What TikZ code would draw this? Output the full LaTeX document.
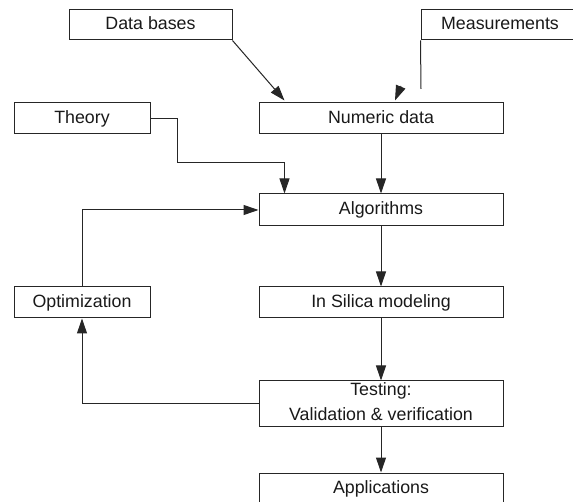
\documentclass[tikz,border=0pt]{standalone}
\usepackage{fontspec}
\setmainfont{Liberation Sans}
\usetikzlibrary{arrows.meta}
\begin{document}
\begin{tikzpicture}[x=1pt,y=-1pt,
  box/.style={draw=black!85, line width=1pt, rectangle, inner sep=0pt,
    font=\fontsize{17.8}{25.7}\selectfont, text height=12.7pt, text depth=3pt, text=black!90},
  wide/.style={box, minimum width=244pt},
  narrow/.style={box, minimum width=136pt},
  txt/.style={inner sep=0pt, font=\fontsize{17.8}{25.7}\selectfont, text=black!90},
  link/.style={draw=black!85, line width=1pt},
  arr/.style={link, -{Triangle[length=15pt,width=10pt]}},
]
\useasboundingbox (0,0) rectangle (573,502);

% boxes
\node[box, minimum width=163pt, minimum height=30pt] (db) at (150.5,25) {Data bases};
\node[box, minimum width=158pt, minimum height=30pt] (meas) at (500,25) {Measurements};
\node[narrow, minimum height=31pt] (theory) at (82,118.5) {Theory};
\node[wide, minimum height=31pt] (num) at (381,118.5) {Numeric data};
\node[wide, minimum height=32pt] (alg) at (381,210) {Algorithms};
\node[narrow, minimum height=31pt] (opt) at (82,302.5) {Optimization};
\node[wide, minimum height=31pt] (sil) at (381,302.5) {In Silica modeling};
\node[wide, minimum height=46pt] (test) at (381,404) {};
\node[txt, align=center] (testtext) at (381,401.5) {Testing:\\Validation \& verification};
\node[wide, minimum height=32pt] (app) at (381,489) {Applications};

% free ends
\coordinate (mend) at (421,89);
\coordinate (mtail) at (401,86);
\coordinate (mtip) at (395,100.5);
\coordinate (tbend) at (177,163);

% connectors
\draw[arr] (db.south east) -- ([xshift=26pt,yshift=2pt]num.north west);
\draw[link] (meas.south west) -- (mend);
\draw[arr] (mtail) -- (mtip);
\draw[arr] (theory.east) -| (tbend) -| ([xshift=26pt]alg.north west);
\draw[arr] (num.south) -- (alg.north);
\draw[arr] (alg.south) -- (sil.north);
\draw[arr] (sil.south) -- (test.north);
\draw[arr] (test.south) -- (app.north);
\draw[arr] (test.west) -| (opt.south);
\draw[arr] (opt.north) |- (alg.west);
\end{tikzpicture}
\end{document}
